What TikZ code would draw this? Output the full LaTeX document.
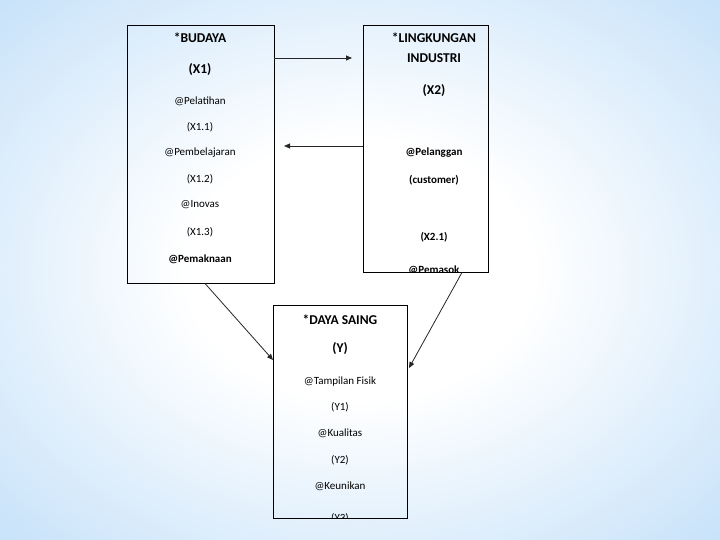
\documentclass[tikz,border=0pt]{standalone}
\usepackage{fontspec}
\setmainfont{Carlito}
\usetikzlibrary{arrows.meta}
\definecolor{bgblue}{RGB}{166,210,245}
\definecolor{bgmid}{RGB}{205,229,250}
\pgfdeclareradialshading{bgshade}{\pgfpoint{0bp}{0bp}}{color(0bp)=(white); color(12bp)=(white); color(33bp)=(bgmid); color(52bp)=(bgblue); color(75bp)=(bgblue)}
\begin{document}
\begin{tikzpicture}[x=1pt,y=-1pt,
  box/.style={draw=black, line width=0.9pt, inner sep=0pt},
  head/.style={font=\fontsize{13.5}{15}\selectfont\bfseries, inner sep=0pt},
  bodyb/.style={font=\fontsize{11}{12}\selectfont\bfseries, inner sep=0pt},
  bodyr/.style={font=\fontsize{11}{12}\selectfont, inner sep=0pt},
  conn/.style={draw=black!85, line width=0.8pt, -{Triangle[length=6pt,width=5pt]}}]
\useasboundingbox (0,0) rectangle (720,540);
\shade[shading=bgshade] (0,0) rectangle (720,540);

% boxes
\node[box, minimum width=147pt, minimum height=258pt] (b1) at (200.5,154) {};
\node[box, minimum width=125pt, minimum height=247pt] (b2) at (425.5,148.5) {};
\node[box, minimum width=134pt, minimum height=213pt] (b3) at (340,411.5) {};

% box 1 texts
\begin{scope}
\clip (b1.north west) rectangle (b1.south east);
\node[head] (t11) at (200,38) {*BUDAYA};
\node[head] (t12) at (200,70) {(X1)};
\node[bodyr] (t13) at (200,101) {@Pelatihan};
\node[bodyr] (t14) at (200,127) {(X1.1)};
\node[bodyr] (t15) at (200,153) {@Pembelajaran};
\node[bodyr] (t16) at (200,179) {(X1.2)};
\node[bodyr] (t17) at (200,205) {@Inovas};
\node[bodyr] (t18) at (200,232) {(X1.3)};
\node[bodyb] (t19) at (200,259) {@Pemaknaan};
\end{scope}

% box 2 texts
\begin{scope}
\clip (b2.north west) rectangle (b2.south east);
\node[head] (t21) at (434,38) {*LINGKUNGAN};
\node[head] (t22) at (434,58) {INDUSTRI};
\node[head] (t23) at (434,91) {(X2)};
\node[bodyb] (t24) at (434,153) {@Pelanggan};
\node[bodyb] (t25) at (434,180) {(customer)};
\node[bodyb] (t26) at (434,237) {(X2.1)};
\node[bodyb] (t27) at (434,270) {@Pemasok};
\end{scope}

% box 3 texts
\begin{scope}
\clip (b3.north west) rectangle (b3.south east);
\node[head] (t31) at (340,320) {*DAYA SAING};
\node[head] (t32) at (340,349) {(Y)};
\node[bodyr] (t33) at (340,382) {@Tampilan Fisik};
\node[bodyr] (t34) at (340,407) {(Y1)};
\node[bodyr] (t35) at (340,433) {@Kualitas};
\node[bodyr] (t36) at (340,460) {(Y2)};
\node[bodyr] (t37) at (340,486) {@Keunikan};
\node[bodyr] (t38) at (340,518) {(Y3)};
\end{scope}

% connectors
\coordinate (e1) at (352,58);
\coordinate (e2) at (284,146);
\draw[conn] (b1.east |- e1) -- (e1);
\draw[conn] (b2.west |- e2) -- (e2);
\coordinate (s3) at (205,0);
\coordinate (s4) at (462,0);
\coordinate (e3) at (273,360);
\coordinate (e4) at (409,368);
\draw[conn] (b1.south -| s3) -- (e3);
\draw[conn] (b2.south -| s4) -- (e4);
\end{tikzpicture}
\end{document}
